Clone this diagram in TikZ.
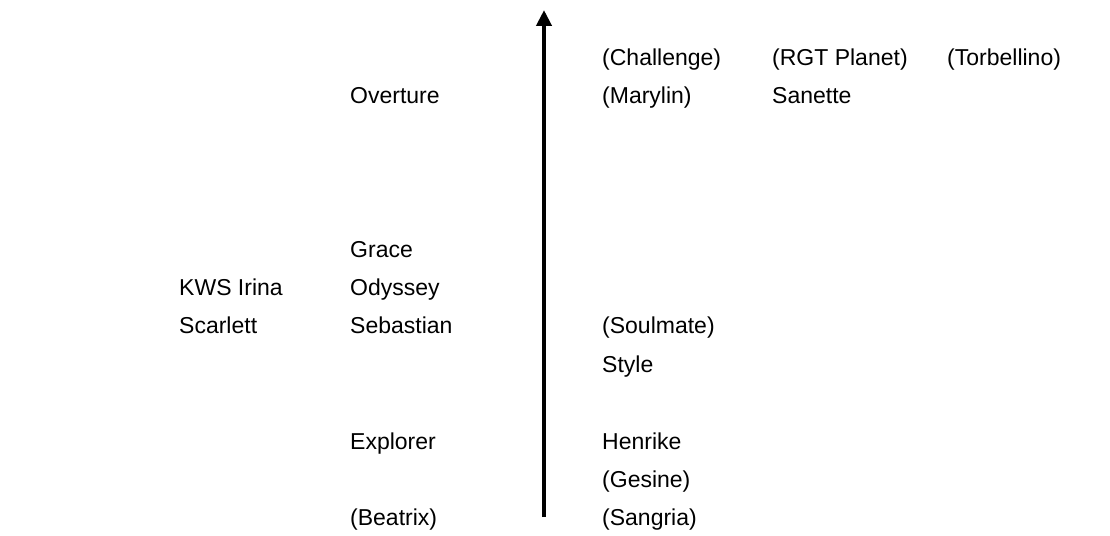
\documentclass[tikz,border=0pt]{standalone}
\usepackage{fontspec}
\setmainfont{Liberation Sans}
\usetikzlibrary{arrows.meta}

\begin{document}
\begin{tikzpicture}[
    x=1pt, y=-1pt,
    variety/.style={anchor=base west, inner sep=0pt, font=\fontsize{23}{27}\selectfont},
    axis/.style={line width=4pt, -{Triangle[length=16pt, width=15pt]}}
]
\useasboundingbox (0,0) rectangle (1110,535);

% column left
\node[variety] (irina) at (179,295) {KWS Irina};
\node[variety] (scarlett) at (179,333) {Scarlett};

% column middle
\node[variety] (overture) at (350,103) {Overture};
\node[variety] (grace) at (350,257) {Grace};
\node[variety] (odyssey) at (350,295) {Odyssey};
\node[variety] (sebastian) at (350,333) {Sebastian};
\node[variety] (explorer) at (350,449) {Explorer};
\node[variety] (beatrix) at (350,525) {(Beatrix)};

% vertical axis
\coordinate (axisbottom) at (544,517);
\coordinate (axistop) at (544,10);
\draw[axis] (axisbottom) -- (axistop);

% columns right
\node[variety] (challenge) at (602,65) {(Challenge)};
\node[variety] (rgtplanet) at (772,65) {(RGT Planet)};
\node[variety] (torbellino) at (947,65) {(Torbellino)};
\node[variety] (marylin) at (602,103) {(Marylin)};
\node[variety] (sanette) at (772,103) {Sanette};
\node[variety] (soulmate) at (602,333) {(Soulmate)};
\node[variety] (style) at (602,372) {Style};
\node[variety] (henrike) at (602,449) {Henrike};
\node[variety] (gesine) at (602,487) {(Gesine)};
\node[variety] (sangria) at (602,525) {(Sangria)};

\end{tikzpicture}
\end{document}
